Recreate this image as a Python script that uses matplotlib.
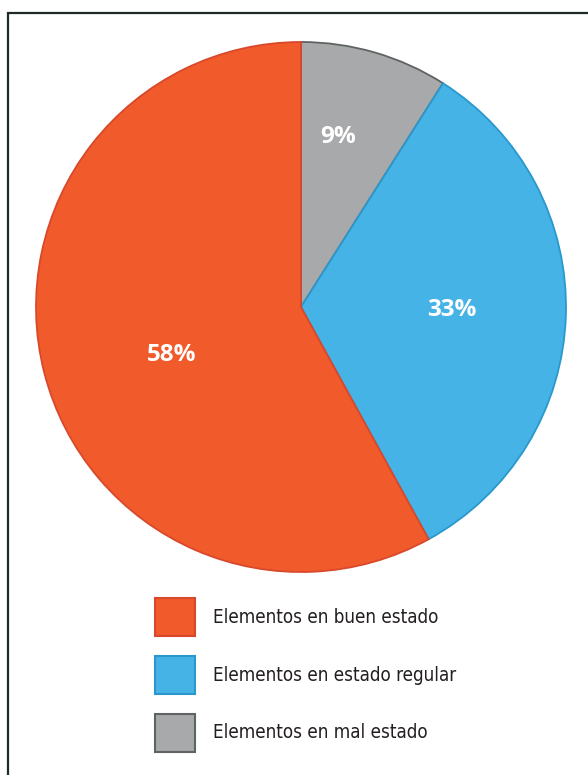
import matplotlib
matplotlib.use("Agg")
import matplotlib.pyplot as plt
from matplotlib.patches import Rectangle, Patch

labels = ["Elementos en mal estado", "Elementos en estado regular", "Elementos en buen estado"]
values = [9, 33, 58]
colors = ["#a7a9aa", "#45b3e6", "#f15a2b"]
edges = ["#5f6462", "#2a98cc", "#d8482a"]
legend_order = [2, 1, 0]

W, H = 588, 775
fig = plt.figure(figsize=(W / 100, H / 100), dpi=100)
fig.patch.set_facecolor("white")

# frame (only top and left visible in the original)
fig.patches.append(Rectangle((8 / W, -0.05), 1.1, (775 - 13) / H + 0.05,
                             transform=fig.transFigure, fill=False,
                             edgecolor="#1f2a26", lw=1.6, zorder=0))

cx, cy, r = 301, 307, 265
ax = fig.add_axes([(cx - r) / W, (H - cy - r) / H, 2 * r / W, 2 * r / H])
wedges, texts, autotexts = ax.pie(values, colors=colors, startangle=90, counterclock=False,
                                  autopct="%d%%", pctdistance=0.6,
                                  wedgeprops=dict(linewidth=1.3))
for w, e in zip(wedges, edges):
    w.set_edgecolor(e)
# label placement as in the original
for t, pos in zip(autotexts, [(0.14, 0.64), (0.57, -0.01), (-0.49, -0.18)]):
    t.set_position(pos)
    t.set_color("white")
    t.set_fontsize(17.5)
    t.set_fontweight("bold")
    t.set_family(["Open Sans", "DejaVu Sans"])
ax.set_xlim(-1, 1)
ax.set_ylim(-1, 1)
ax.set_aspect("equal")
ax.axis("off")

handles = [Patch(facecolor=colors[i], edgecolor=edges[i], linewidth=1.5, label=labels[i])
           for i in legend_order]
fs = 13.5
fig.legend(handles=handles, loc="upper left", bbox_to_anchor=(155 / W, 1 - 598 / H),
           frameon=False, prop=dict(family="DejaVu Sans", stretch="condensed", size=fs),
           handlelength=2.13, handleheight=2.78,
           handletextpad=0.96, labelspacing=1.03, borderpad=0, borderaxespad=0,
           labelcolor="#231f20")

fig.savefig("out.png", dpi=100)
